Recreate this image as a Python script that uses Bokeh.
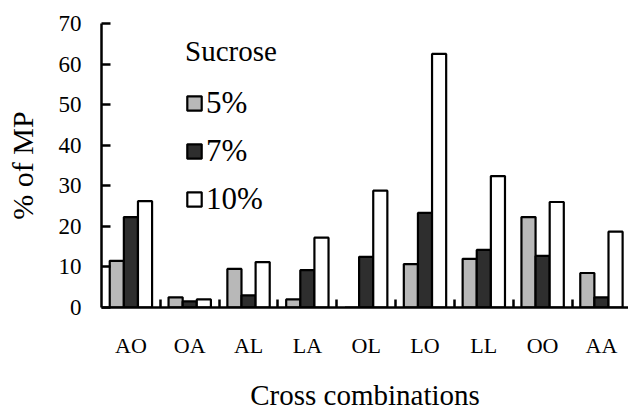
from bokeh.plotting import figure
from bokeh.models import Range1d, FixedTicker, Legend, LegendItem, ColumnDataSource
from bokeh.embed import file_html
from bokeh.resources import INLINE
import numpy as np

cats = ["AO", "OA", "AL", "LA", "OL", "LO", "LL", "OO", "AA"]
s5 = [11.5, 2.5, 9.5, 2.0, 0.0, 10.7, 12.0, 22.3, 8.5]
s7 = [22.3, 1.5, 3.0, 9.2, 12.5, 23.3, 14.2, 12.7, 2.5]
s10 = [26.2, 2.0, 11.2, 17.2, 28.8, 62.5, 32.4, 26.0, 18.7]
series_labels = ["5%", "7%", "10%"]
series_colors = ["#b8b8b8", "#2e2e2e", "#ffffff"]
y_ticks = [0, 10, 20, 30, 40, 50, 60, 70]

FONT = "Liberation Serif"

centers = list(np.arange(len(cats)) + 0.5)
bounds = list(np.arange(1, len(cats)))

p = figure(width=628, height=413, output_backend="svg", toolbar_location=None,
           x_range=Range1d(0, 8.96), y_range=Range1d(0, 70),
           min_border_left=101, min_border_right=0, min_border_top=23, min_border_bottom=97)
p.outline_line_color = None
p.xgrid.visible = False
p.ygrid.visible = False

bw = 0.24
offsets = [-bw, 0.0, bw]
renderers = []
for vals, col, off in zip([s5, s7, s10], series_colors, offsets):
    src = ColumnDataSource(dict(x=[c + off for c in centers], top=vals))
    r = p.vbar(x="x", top="top", width=bw, bottom=0, source=src,
               fill_color=col, line_color="black", line_width=2.2)
    renderers.append(r)

# x axis
xa = p.xaxis[0]
xa.ticker = FixedTicker(ticks=centers, minor_ticks=bounds)
xa.major_label_overrides = {c: n for c, n in zip(centers, cats)}
xa.major_tick_line_color = None
xa.minor_tick_in = 8
xa.minor_tick_out = 0
xa.minor_tick_line_width = 2.5
xa.axis_line_width = 2.5
xa.major_label_text_font = FONT
xa.major_label_text_font_size = "22px"
xa.major_label_text_color = "black"
xa.major_label_standoff = 19
xa.axis_label = "Cross combinations"
xa.axis_label_text_font = FONT
xa.axis_label_text_font_size = "29px"
xa.axis_label_text_font_style = "normal"
xa.axis_label_text_color = "black"
xa.axis_label_standoff = 18

ya = p.yaxis[0]
ya.ticker = FixedTicker(ticks=y_ticks, minor_ticks=[])
ya.major_tick_in = 9
ya.major_tick_out = 0
ya.major_tick_line_width = 2.5
ya.axis_line_width = 2.5
ya.major_label_text_font = FONT
ya.major_label_text_font_size = "23px"
ya.major_label_text_color = "black"
ya.major_label_standoff = 20
ya.axis_label = "% of MP"
ya.axis_label_text_font = FONT
ya.axis_label_text_font_size = "30px"
ya.axis_label_text_font_style = "normal"
ya.axis_label_text_color = "black"
ya.axis_label_standoff = 17

legend = Legend(items=[LegendItem(label=l, renderers=[r]) for l, r in zip(series_labels, renderers)],
                location=(84, 90), title="Sucrose",
                title_text_font=FONT, title_text_font_size="29px", title_text_font_style="normal",
                title_text_color="black", title_standoff=17,
                label_text_font=FONT, label_text_font_size="31px", label_text_color="black",
                glyph_width=18, glyph_height=18, label_standoff=3, spacing=12,
                padding=0, margin=0, border_line_color=None, background_fill_alpha=0)
p.add_layout(legend)

open("out.html", "w").write(file_html(p, INLINE))
